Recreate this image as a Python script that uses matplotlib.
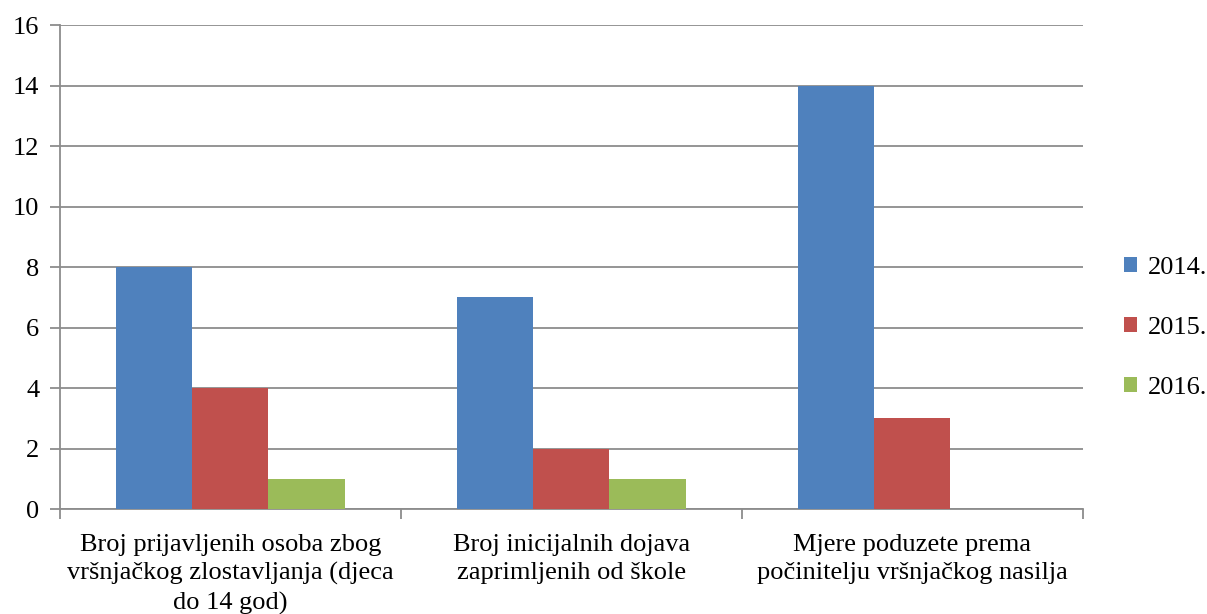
import numpy as np
import matplotlib.pyplot as plt

categories = ["Broj prijavljenih osoba zbog\nvršnjačkog zlostavljanja (djeca\ndo 14 god)",
              "Broj inicijalnih dojava\nzaprimljenih od škole",
              "Mjere poduzete prema\npočinitelju vršnjačkog nasilja"]
years = ["2014.", "2015.", "2016."]
v2014 = [8, 7, 14]
v2015 = [4, 2, 3]
v2016 = [1, 1, 0]
colors = ["#4F81BD", "#C0504D", "#9BBB59"]

plt.rcParams['font.family'] = ['Liberation Serif', 'DejaVu Serif']

fig = plt.figure(figsize=(12.07, 6.14), dpi=100)
ax = fig.add_axes([0.0497, 0.171, 0.8475, 0.788])

x = np.arange(len(categories))
w = 0.223
for i, (vals, lab) in enumerate(zip([v2014, v2015, v2016], years)):
    ax.bar(x + (i - 1) * w, vals, width=w, color=colors[i], label=lab, zorder=3)

ax.set_xlim(-0.5, 2.5)
ax.set_ylim(0, 16)
ax.set_yticks(np.arange(0, 17, 2))
ax.yaxis.grid(True, color='#8c8c8c', linewidth=1.3, zorder=0)
ax.set_axisbelow(True)
for s in ['top', 'right']:
    ax.spines[s].set_visible(False)
for s in ['left', 'bottom']:
    ax.spines[s].set_color('#8c8c8c')
    ax.spines[s].set_linewidth(1.3)

ax.set_xticks(x)
ax.set_xticklabels(categories, fontsize=19, linespacing=1.35)
ax.tick_params(axis='x', length=0, pad=18)
ax.set_xticks([-0.5, 0.5, 1.5, 2.5], minor=True)
ax.tick_params(axis='x', which='minor', length=7, width=1.3, color='#8c8c8c')
ax.tick_params(axis='y', labelsize=19, length=7, width=1.3, color='#8c8c8c', pad=8)

ax.legend(loc='center left', bbox_to_anchor=(1.03, 0.374), frameon=False,
          fontsize=19, handlelength=0.5, handleheight=0.5, labelspacing=1.45,
          handletextpad=0.4, borderaxespad=0)

plt.savefig("out.png")
